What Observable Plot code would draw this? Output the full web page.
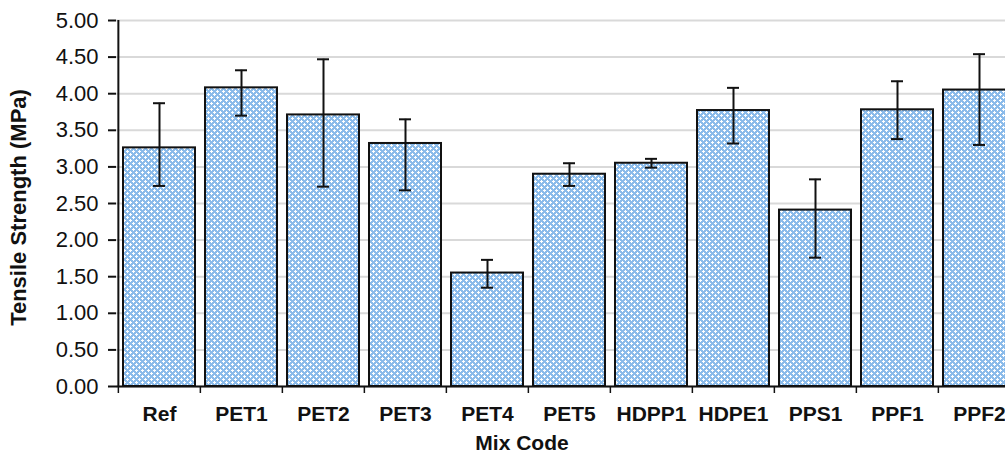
<!DOCTYPE html>
<html>
<head>
<meta charset="utf-8">
<script src="https://cdn.jsdelivr.net/npm/d3@7"></script>
<script src="https://cdn.jsdelivr.net/npm/@observablehq/plot@0.6"></script>
<style>
  html, body { margin: 0; padding: 0; background: #fff; overflow: hidden; }
  #chart svg { display: block; font-family: "Liberation Sans", Arial, sans-serif; }
  #chart svg g.title-x text { font-size: 21px; font-weight: bold; fill: #111; }
  #chart svg g.title-y text { font-size: 22px; font-weight: bold; fill: #111; }
</style>
</head>
<body>
<div id="chart"></div>
<script>
const categories = ["Ref", "PET1", "PET2", "PET3", "PET4", "PET5", "HDPP1", "HDPE1", "PPS1", "PPF1", "PPF2"];
const strength   = [3.26, 4.08, 3.71, 3.32, 1.55, 2.90, 3.05, 3.77, 2.41, 3.78, 4.05];
const errLow     = [2.74, 3.70, 2.73, 2.68, 1.35, 2.74, 2.99, 3.32, 1.76, 3.38, 3.30];
const errHigh    = [3.87, 4.32, 4.47, 3.65, 1.73, 3.05, 3.11, 4.08, 2.83, 4.17, 4.54];
const yTicks     = [0, 0.5, 1, 1.5, 2, 2.5, 3, 3.5, 4, 4.5, 5];
const xTitle = "Mix Code";
const yTitle = "Tensile Strength (MPa)";

const data = categories.map((c, i) => ({code: c, v: strength[i], lo: errLow[i], hi: errHigh[i]}));

const W = 1005, H = 456;
const mL = 116, mR = -16, mT = 20, mB = 70;
const step = (W - mR - mL) / categories.length;

const chart = Plot.plot({
  width: W,
  height: H,
  marginLeft: mL,
  marginRight: mR,
  marginTop: mT,
  marginBottom: mB,
  style: {fontFamily: "Liberation Sans, Arial, sans-serif", overflow: "hidden", color: "#111"},
  x: {domain: categories, paddingInner: 0.125, paddingOuter: 0.0625},
  y: {domain: [0, 5]},
  marks: [
    Plot.gridY(yTicks, {stroke: "#d9d9d9", strokeOpacity: 1, strokeWidth: 2}),
    Plot.barY(data, {x: "code", y: "v", fill: "url(#hatch)", stroke: "#111", strokeWidth: 2}),
    Plot.ruleX(data, {x: "code", y1: "lo", y2: "hi", stroke: "#111", strokeWidth: 2}),
    Plot.tickY(data, {x: "code", y: "lo", stroke: "#111", strokeWidth: 2, insetLeft: 30, insetRight: 30}),
    Plot.tickY(data, {x: "code", y: "hi", stroke: "#111", strokeWidth: 2, insetLeft: 30, insetRight: 30}),
    Plot.ruleY([0], {stroke: "#111", strokeWidth: 2}),
    Plot.ruleX([categories[0]], {y1: 0, y2: 5, dx: -step / 2, stroke: "#111", strokeWidth: 2}),
    Plot.ruleX(categories, {y1: 0, y2: 0, dx: -step / 2, insetBottom: -7, stroke: "#111", strokeWidth: 1.5}),
    Plot.axisY({
      ticks: yTicks, tickFormat: d => d.toFixed(2), tickSize: 8, tickPadding: 10,
      fontSize: 22, stroke: "#111", strokeWidth: 2, label: null
    }),
    Plot.axisX({tickSize: 0, tickPadding: 20, fontSize: 21, fontWeight: "bold", label: null}),
    Plot.text([xTitle], {frameAnchor: "bottom", textAnchor: "middle", dx: -47, dy: 57, lineAnchor: "middle", className: "title-x"}),
    Plot.text([yTitle], {frameAnchor: "left", textAnchor: "middle", rotate: -90, dx: -98, dy: 4, lineAnchor: "middle", className: "title-y"})
  ]
});

// Pattern definition for the bar fill
const ns = "http://www.w3.org/2000/svg";
const defs = document.createElementNS(ns, "defs");
const pat = document.createElementNS(ns, "pattern");
pat.setAttribute("id", "hatch");
pat.setAttribute("width", 6);
pat.setAttribute("height", 6);
pat.setAttribute("patternUnits", "userSpaceOnUse");
const addRect = (x, y, w, h, f) => {
  const r = document.createElementNS(ns, "rect");
  r.setAttribute("x", x); r.setAttribute("y", y);
  r.setAttribute("width", w); r.setAttribute("height", h);
  r.setAttribute("fill", f);
  pat.appendChild(r);
};
addRect(0, 0, 6, 6, "#8bbbea");
// white plus signs in a diagonal arrangement
addRect(1, 0, 1, 3, "#ffffff");
addRect(0, 1, 3, 1, "#ffffff");
addRect(4, 3, 1, 3, "#ffffff");
addRect(3, 4, 3, 1, "#ffffff");
defs.appendChild(pat);
chart.insertBefore(defs, chart.firstChild);

document.getElementById("chart").appendChild(chart);
</script>
</body>
</html>
